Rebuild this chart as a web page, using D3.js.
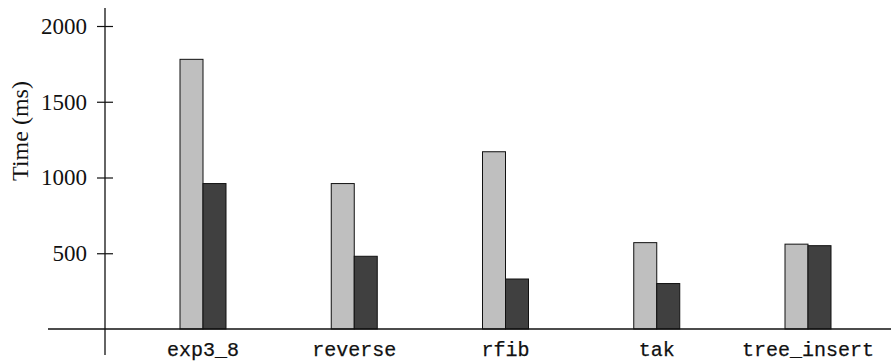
<!DOCTYPE html>
<html>
<head>
<meta charset="utf-8">
<script src="https://cdn.jsdelivr.net/npm/d3@7"></script>
<style>
  html, body { margin: 0; padding: 0; background: #fff; }
  svg { display: block; }
</style>
</head>
<body>
<svg id="chart" width="891" height="362"></svg>
<script>
const categories = ["exp3_8", "reverse", "rfib", "tak", "tree_insert"];
const seriesNames = ["A", "B"];
const seriesA = [1780, 960, 1170, 570, 560];
const seriesB = [960, 480, 330, 300, 550];
const yTicks = [500, 1000, 1500, 2000];
const yLabel = "Time (ms)";
const colors = ["#bfbfbf", "#404040"];

const svg = d3.select("#chart");
const axisX = 105;
const y = d3.scaleLinear().domain([0, 2000]).range([329, 26]);
const x = d3.scalePoint().domain(categories).range([203, 808]);
const xs = d3.scaleBand().domain(seriesNames).range([-23, 23]).padding(0);

const data = categories.map((c, i) => ({ c, vals: [seriesA[i], seriesB[i]] }));

const g = svg.append("g");
g.selectAll("g.cat").data(data).join("g")
  .attr("class", "cat")
  .attr("transform", d => `translate(${x(d.c)},0)`)
  .selectAll("rect").data(d => d.vals.map((v, j) => ({ v, s: seriesNames[j], j })))
  .join("rect")
  .attr("x", d => xs(d.s))
  .attr("width", xs.bandwidth())
  .attr("y", d => y(d.v))
  .attr("height", d => y(0) - y(d.v))
  .attr("fill", d => colors[d.j])
  .attr("stroke", "#111")
  .attr("stroke-width", 1);

// x axis line
svg.append("line")
  .attr("x1", 48).attr("x2", 891)
  .attr("y1", y(0)).attr("y2", y(0))
  .attr("stroke", "#111").attr("stroke-width", 1.3);

// y axis
const yAxis = d3.axisLeft(y).tickValues(yTicks).tickFormat(d3.format("d")).tickSize(0).tickPadding(18);
const ya = svg.append("g").attr("transform", `translate(${axisX},0)`).call(yAxis);
ya.attr("font-family", null).attr("font-size", null);
ya.select(".domain").remove();
ya.selectAll(".tick text")
  .style("font-family", "'Liberation Serif', 'Times New Roman', serif")
  .style("font-size", "23px")
  .attr("fill", "#111");
ya.selectAll(".tick").append("line")
  .attr("x1", -8).attr("x2", 8)
  .attr("stroke", "#111").attr("stroke-width", 1.2);

svg.append("line")
  .attr("x1", axisX).attr("x2", axisX)
  .attr("y1", 8).attr("y2", 355)
  .attr("stroke", "#111").attr("stroke-width", 1.3);

// category labels
svg.append("g").selectAll("text").data(categories).join("text")
  .attr("x", d => x(d))
  .attr("y", 356)
  .attr("text-anchor", "middle")
  .style("font-family", "'Liberation Mono', 'Courier New', monospace")
  .style("font-size", "20px")
  .attr("fill", "#111")
  .attr("stroke", "#111").attr("stroke-width", 0.25)
  .text(d => d);

// y label
svg.append("text")
  .attr("transform", `translate(28,131) rotate(-90)`)
  .attr("text-anchor", "middle")
  .style("font-family", "'Liberation Serif', 'Times New Roman', serif")
  .style("font-size", "24px")
  .attr("fill", "#111")
  .text(yLabel);
</script>
</body>
</html>
